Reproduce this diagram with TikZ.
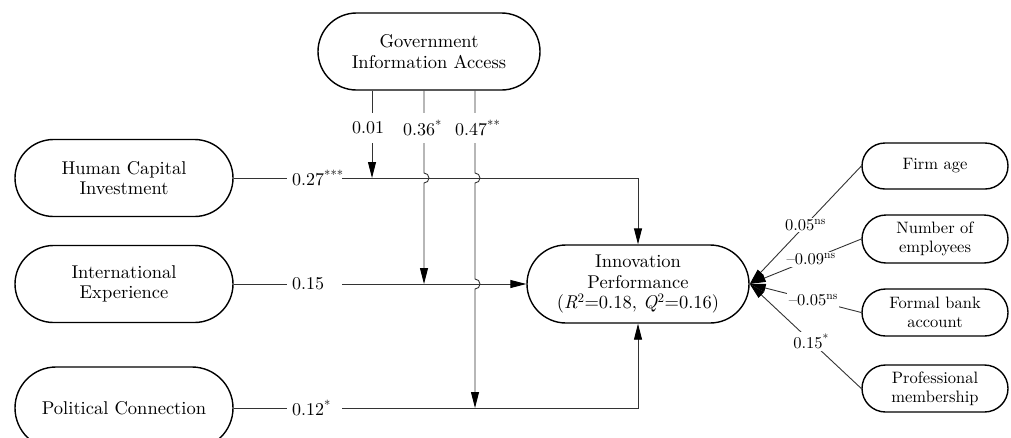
\documentclass[tikz,border=0pt]{standalone}
\usepackage{fontspec}
\setmainfont{lmroman10-regular.otf}[ItalicFont=lmroman10-italic.otf,BoldFont=lmroman10-bold.otf]
\usetikzlibrary{shapes.misc,arrows.meta}
\begin{document}
\begin{tikzpicture}[x=1pt,y=-1pt,
  box/.style={rounded rectangle, draw, line width=1.4pt, align=center,
    font=\fontsize{18.5}{20.5}\selectfont, minimum width=218pt, minimum height=77pt, inner sep=0pt},
  cbox/.style={rounded rectangle, draw, line width=1.4pt, align=center,
    font=\fontsize{16.5}{19}\selectfont, minimum width=146pt, minimum height=47pt, inner sep=0pt},
  conn/.style={draw=black!80, line width=0.9pt},
  arr/.style={conn, -{Triangle[length=16pt,width=8pt,color=black]}},
  lab/.style={fill=white, font=\fontsize{18}{20}\selectfont},
  hlab/.style={lab, anchor=west, text width=45pt, align=left, inner xsep=5pt, inner ysep=2pt},
  vlab/.style={lab, anchor=west, minimum height=30pt, inner xsep=1pt, inner ysep=0pt},
  rlab/.style={fill=white, font=\fontsize{16.5}{19}\selectfont, inner sep=1.5pt},
]
\useasboundingbox (0,0) rectangle (1011,437);

% nodes
\node[box, minimum width=222pt] (gov) at (429,51.5) {Government\\Information Access};
\node[box] (hci) at (124,178) {Human Capital\\Investment};
\node[box] (ie) at (124,284) {International\\Experience};
\node[box, minimum height=82pt] (pc) at (124,408) {Political Connection};
\node[box, minimum width=222pt, minimum height=78pt] (ip) at (638,284)
  {Innovation\\Performance\\(\textit{R}\textsuperscript{2}=0.18, \textit{Q}\textsuperscript{2}=0.16)};

\node[cbox, minimum height=46pt] (fa) at (935,166) {Firm age};
\node[cbox, minimum height=48pt] (ne) at (935,239) {Number of\\employees};
\node[cbox] (fb) at (935,312.5) {Formal bank\\account};
\node[cbox] (pm) at (935,388.5) {Professional\\membership};

% coordinates where moderating arrows end
\coordinate (g1) at (372,178);
\coordinate (g2) at (424,284);
\coordinate (g3) at (475,408);

% main paths
\draw[arr] (hci.east) -| (ip.north);
\draw[arr] (ie.east) -- (ip.west);
\draw[arr] (pc.east) -| (ip.south);

% moderating paths
\draw[arr] (gov.south -| g1) -- (g1);
\draw[arr] (gov.south -| g2) -- (424,173) arc[start angle=90,end angle=-90,radius=5pt] -- (g2);
\draw[arr] (gov.south -| g3) -- (475,173) arc[start angle=90,end angle=-90,radius=5pt]
  -- (475,279) arc[start angle=90,end angle=-90,radius=5pt] -- (g3);

% labels
\node[hlab] (l1) at (287,178) {0.27\textsuperscript{***}};
\node[hlab] (l2) at (287,284) {0.15};
\node[hlab] (l3) at (287,408) {0.12\textsuperscript{*}};
\node[vlab] (v1) at (351,128) {0.01};
\node[vlab] (v2) at (402,128) {0.36\textsuperscript{*}};
\node[vlab] (v3) at (454,128) {0.47\textsuperscript{**}};

% control paths
\draw[arr] (fa.west) -- node[rlab, pos=0.5] (c1) {0.05\textsuperscript{ns}} (ip.east);
\draw[arr] (ne.west) -- node[rlab, pos=0.45] (c2) {\textendash0.09\textsuperscript{ns}} (ip.east);
\draw[arr] (fb.west) -- node[rlab, pos=0.43] (c3) {\textendash0.05\textsuperscript{ns}} (ip.east);
\draw[arr] (pm.west) -- node[rlab, pos=0.45] (c4) {0.15\textsuperscript{*}} (ip.east);
\end{tikzpicture}
\end{document}
